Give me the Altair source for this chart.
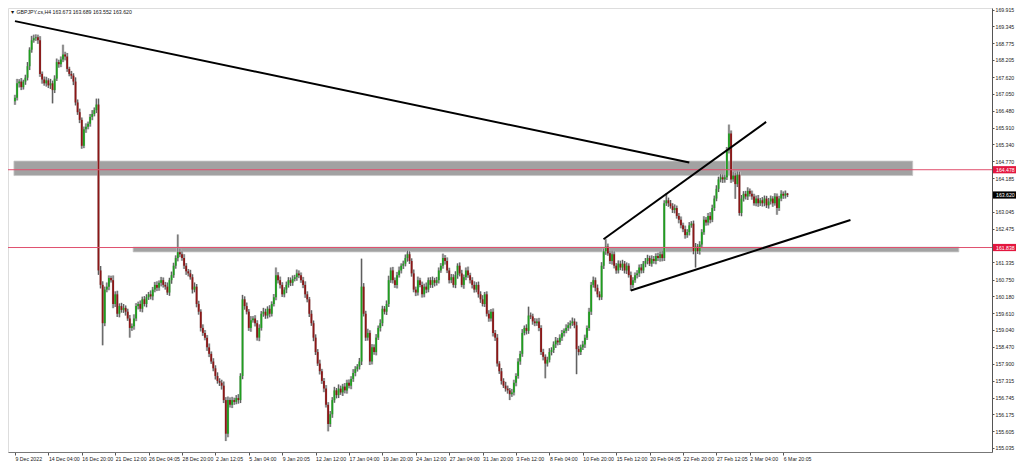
import altair as alt
import pandas as pd

# ---------------- data (GBPJPY H4) ----------------
first_open = 166.80
closes = [
    166.92, 167.41, 167.47, 167.28, 167.47, 167.60, 167.99, 168.55, 168.87, 168.94,
    168.97, 168.87, 167.73, 167.54, 167.41, 167.51, 167.34, 167.41, 167.18, 167.57,
    168.13, 168.06, 168.22, 168.39, 168.32, 167.90, 167.73, 167.67, 167.47, 166.76,
    166.43, 166.17, 165.29, 165.85, 165.94, 166.04, 166.27, 166.37, 166.50, 166.69,
    161.06, 160.57, 159.27, 160.41, 160.51, 160.80, 160.73, 159.92, 160.25, 159.59,
    159.85, 159.72, 159.79, 159.66, 159.43, 159.11, 159.17, 159.43, 159.85, 159.92,
    159.76, 160.08, 159.92, 160.15, 160.25, 160.18, 160.41, 160.57, 160.47, 160.64,
    160.73, 160.57, 160.51, 160.31, 160.73, 160.90, 161.22, 161.48, 161.68, 161.61,
    161.48, 161.22, 161.03, 160.96, 160.83, 160.41, 160.51, 159.92, 159.66, 159.11,
    158.94, 158.78, 158.45, 158.23, 157.97, 157.74, 157.48, 157.31, 157.25, 157.15,
    156.66, 155.52, 156.66, 156.50, 156.66, 156.60, 156.73, 156.66, 157.48, 160.08,
    159.85, 159.66, 159.11, 159.37, 159.43, 159.27, 158.78, 159.11, 159.59, 159.66,
    159.53, 159.76, 159.59, 159.92, 160.15, 160.90, 160.73, 160.57, 160.25, 160.41,
    160.57, 160.73, 160.64, 160.77, 160.83, 160.96, 160.90, 160.73, 160.57, 160.25,
    160.08, 159.59, 159.27, 158.78, 158.29, 157.90, 157.64, 157.31, 157.05, 156.50,
    155.85, 156.18, 156.66, 156.99, 156.83, 157.05, 156.92, 157.12, 156.99, 157.25,
    157.15, 157.38, 157.58, 157.71, 157.80, 157.97, 160.51, 159.59, 158.78, 158.94,
    157.97, 158.45, 158.29, 158.78, 159.11, 159.27, 159.76, 159.66, 159.92, 160.73,
    161.06, 160.73, 160.57, 160.90, 161.06, 161.22, 161.29, 161.48, 161.61, 161.38,
    160.96, 160.41, 160.31, 160.73, 160.57, 160.25, 160.51, 160.41, 160.73, 160.57,
    160.73, 160.64, 160.73, 161.06, 161.22, 161.48, 161.38, 161.06, 160.73, 160.83,
    160.57, 160.90, 161.22, 160.96, 160.57, 160.83, 161.06, 160.90, 160.73, 160.57,
    160.41, 160.57, 160.25, 160.08, 159.92, 160.25, 159.59, 159.43, 159.66, 158.94,
    158.78, 157.90, 157.64, 157.31, 157.15, 157.05, 156.99, 156.86, 156.92, 157.25,
    157.48, 157.97, 158.23, 158.94, 159.11, 159.01, 159.53, 159.50, 159.33, 159.27,
    159.33, 159.11, 158.29, 158.13, 157.90, 158.03, 158.29, 158.36, 158.55, 158.68,
    158.62, 158.78, 158.94, 159.01, 159.11, 159.20, 159.27, 159.33, 159.20, 158.39,
    158.29, 158.45, 158.55, 158.78, 159.11, 159.66, 160.57, 160.73, 160.47, 160.25,
    160.15, 161.22, 161.71, 161.87, 161.64, 161.38, 161.61, 161.22, 161.06, 161.29,
    161.16, 161.29, 161.06, 161.22, 160.90, 160.57, 160.73, 160.90, 160.96, 161.16,
    161.06, 161.29, 161.38, 161.48, 161.29, 161.45, 161.38, 161.55, 161.48, 161.61,
    161.48, 163.34, 163.44, 163.34, 163.24, 163.11, 163.18, 162.91, 162.78, 162.59,
    162.46, 162.26, 162.36, 162.59, 162.65, 161.71, 161.87, 161.71, 161.94, 162.36,
    162.78, 162.69, 162.91, 162.78, 163.18, 163.50, 163.83, 164.15, 164.22, 164.15,
    164.22, 165.13, 165.71, 164.15, 164.28, 163.99, 164.31, 163.01, 163.50, 163.66,
    163.57, 163.76, 163.66, 163.57, 163.34, 163.50, 163.34, 163.44, 163.34, 163.50,
    163.27, 163.40, 163.50, 163.34, 163.57, 163.18, 163.50, 163.66, 163.60, 163.67,
    163.62,
]
# wick lengths above / below the body, in hundredths of a yen
up_wick = [
    10, 15, 8, 12, 6, 10, 14, 8, 15, 12, 10, 9, 14, 8, 10, 12, 7, 15, 9, 11,
    12, 8, 10, 33, 9, 12, 7, 10, 8, 14, 10, 12, 8, 9, 11, 7, 10, 13, 9, 20,
    20, 15, 12, 10, 14, 9, 8, 16, 10, 12, 9, 11, 13, 8, 10, 12, 9, 14, 10, 8,
    12, 9, 11, 10, 8, 13, 9, 10, 12, 8, 11, 9, 10, 14, 8, 12, 10, 9, 60, 12,
    10, 13, 9, 8, 12, 10, 14, 9, 11, 8, 12, 10, 9, 13, 8, 11, 10, 12, 9, 10,
    14, 10, 12, 9, 11, 8, 10, 13, 9, 15, 10, 12, 9, 14, 8, 11, 10, 12, 9, 13,
    10, 8, 12, 9, 11, 26, 10, 12, 9, 8, 11, 10, 9, 12, 8, 13, 10, 9, 11, 12,
    10, 8, 12, 9, 11, 10, 13, 8, 10, 12, 9, 11, 10, 12, 8, 14, 10, 9, 12, 10,
    11, 9, 13, 10, 8, 12, 95, 12, 10, 14, 9, 11, 10, 12, 8, 13, 10, 9, 12, 15,
    10, 12, 9, 11, 13, 8, 10, 12, 12, 10, 9, 13, 10, 12, 8, 11, 10, 14, 9, 10,
    12, 8, 11, 10, 9, 15, 10, 12, 9, 11, 10, 13, 8, 11, 12, 9, 10, 13, 8, 10,
    12, 9, 11, 10, 14, 8, 10, 12, 9, 11, 10, 12, 8, 11, 9, 13, 10, 8, 12, 10,
    9, 11, 10, 13, 8, 12, 30, 10, 9, 11, 10, 12, 9, 11, 8, 10, 13, 9, 10, 12,
    9, 11, 10, 8, 12, 10, 9, 13, 10, 12, 11, 9, 12, 10, 8, 13, 10, 12, 9, 11,
    10, 12, 9, 25, 10, 8, 12, 10, 9, 11, 10, 13, 9, 11, 8, 12, 10, 9, 11, 10,
    12, 9, 10, 11, 8, 12, 10, 9, 11, 10, 12, 10, 23, 9, 11, 10, 12, 8, 10, 11,
    9, 12, 10, 11, 8, 10, 12, 9, 11, 10, 12, 9, 10, 13, 11, 10, 12, 9, 11, 10,
    9, 12, 30, 10, 12, 9, 11, 10, 12, 9, 10, 12, 8, 11, 9, 10, 12, 8, 11, 10,
    9, 12, 10, 8, 11, 10, 9, 12, 8, 10, 2,
]
down_wick = [
    12, 9, 14, 10, 8, 11, 9, 13, 10, 8, 9, 12, 10, 14, 8, 11, 9, 12, 45, 10,
    8, 12, 10, 9, 13, 10, 8, 11, 12, 10, 9, 11, 10, 8, 12, 9, 10, 11, 8, 10,
    15, 12, 75, 10, 9, 12, 8, 14, 10, 11, 12, 9, 10, 13, 8, 33, 10, 12, 9, 11,
    10, 12, 8, 11, 9, 10, 13, 9, 11, 10, 12, 9, 10, 8, 11, 12, 9, 10, 11, 10,
    9, 11, 12, 10, 8, 13, 9, 11, 10, 12, 10, 9, 12, 11, 8, 10, 12, 9, 11, 13,
    10, 25, 12, 9, 11, 10, 8, 12, 10, 11, 12, 9, 10, 13, 8, 11, 10, 12, 9, 10,
    11, 10, 12, 9, 8, 10, 11, 12, 9, 10, 12, 9, 11, 10, 8, 12, 10, 9, 11, 12,
    10, 11, 9, 12, 10, 8, 11, 10, 12, 9, 25, 10, 12, 9, 11, 10, 8, 12, 10, 11,
    9, 12, 10, 11, 8, 10, 12, 9, 11, 10, 12, 10, 9, 11, 8, 12, 10, 9, 11, 10,
    9, 11, 10, 12, 8, 10, 11, 9, 12, 10, 11, 9, 12, 10, 8, 11, 10, 12, 9, 10,
    10, 12, 9, 11, 8, 10, 12, 9, 11, 10, 9, 11, 12, 10, 8, 13, 10, 9, 11, 12,
    10, 9, 11, 12, 8, 10, 9, 11, 10, 12, 11, 10, 9, 12, 8, 10, 11, 20, 9, 10,
    12, 9, 11, 10, 8, 12, 10, 9, 11, 10, 9, 11, 10, 12, 50, 10, 9, 11, 10, 12,
    10, 9, 11, 12, 8, 10, 11, 9, 10, 85, 11, 10, 9, 12, 8, 10, 11, 9, 12, 10,
    10, 9, 11, 12, 8, 10, 12, 9, 11, 10, 9, 11, 10, 12, 8, 20, 10, 9, 11, 12,
    10, 9, 12, 11, 8, 10, 9, 11, 10, 12, 11, 10, 9, 12, 8, 10, 11, 9, 12, 10,
    10, 12, 9, 11, 8, 10, 55, 9, 11, 10, 9, 11, 10, 12, 8, 10, 9, 11, 10, 12,
    11, 9, 10, 12, 8, 50, 10, 9, 11, 10, 10, 12, 9, 11, 8, 10, 12, 9, 11, 10,
    9, 11, 10, 12, 8, 23, 10, 9, 11, 10, 7,
]

x_labels = ["9 Dec 2022", "14 Dec 04:00", "16 Dec 20:00", "21 Dec 12:00", "26 Dec 04:05",
            "28 Dec 20:00", "2 Jan 12:05", "5 Jan 04:00", "9 Jan 20:05", "12 Jan 12:00",
            "17 Jan 04:00", "19 Jan 20:00", "24 Jan 12:00", "27 Jan 04:00", "31 Jan 20:00",
            "3 Feb 12:00", "8 Feb 04:00", "10 Feb 20:00", "15 Feb 12:00", "20 Feb 04:05",
            "22 Feb 20:00", "27 Feb 12:05", "2 Mar 04:00", "6 Mar 20:05"]
bars_per_label = 16
y_ticks = [169.915, 169.345, 168.775, 168.205, 167.620, 167.050, 166.480, 165.910,
           165.340, 164.770, 164.185, 163.045, 162.475, 161.335, 160.750,
           160.180, 159.610, 159.040, 158.470, 157.900, 157.315, 156.745, 156.175,
           155.605, 155.035]

# zones (rectangles), horizontal levels and trend lines
zone_x0 = [-0.5, 56.6]
zone_x1 = [430.0, 452.1]
zone_top = [164.77, 161.85]
zone_bottom = [164.28, 161.69]
level_prices = [164.478, 161.838]
tag_prices = [164.478, 161.838, 163.620]
tag_text = ["164.478", "161.838", "163.620"]
tag_fill = ["#e3173f", "#e3173f", "#000000"]
trend_x0 = [0.0, 281.9, 295.0]
trend_p0 = [169.52, 162.12, 160.38]
trend_x1 = [323.0, 359.8, 400.2]
trend_p1 = [164.72, 166.10, 162.77]
header = "\u25bc GBPJPY.cs,H4  163.673 163.689 163.552 163.620"

# ---------------- build tables ----------------
opens = [first_open] + closes[:-1]
rows = []
for i, c in enumerate(closes):
    o = opens[i]
    rows.append({
        "idx": i, "open": o, "close": c,
        "high": max(o, c) + up_wick[i] / 100.0,
        "low": min(o, c) - down_wick[i] / 100.0,
        "dir": "up" if c >= o else "down",
    })
df = pd.DataFrame(rows)

W, H = 984, 444
FONT = "Liberation Sans"
FS = 5.2
xscale = alt.Scale(domain=[-0.95, 465.6], nice=False, zero=False)
yscale = alt.Scale(domain=[154.899, 169.966], nice=False, zero=False)

label_expr = "[" + ",".join("'%s'" % s for s in x_labels) + "][round(datum.value/%d)]" % bars_per_label
x_axis = alt.Axis(values=list(range(0, bars_per_label * len(x_labels), bars_per_label)),
                  labelExpr=label_expr, labelAlign="left", labelBaseline="top",
                  labelPadding=1, tickSize=3, tickColor="#555555", domainColor="#777777",
                  labelFontSize=FS, labelFont=FONT, labelColor="#222222",
                  labelFlush=False, labelOverlap=False, grid=False, title=None)
y_axis = alt.Axis(orient="right", values=y_ticks, format=".3f", labelAlign="left",
                  labelBaseline="middle", tickSize=2, labelPadding=1,
                  tickColor="#555555", domainColor="#555555",
                  labelFontSize=FS, labelFont=FONT, labelColor="#222222",
                  labelFlush=False, labelOverlap=False, grid=False, title=None)


def X(field):
    return alt.X(field, scale=xscale, axis=x_axis)


def Y(field):
    return alt.Y(field, scale=yscale, axis=y_axis)


zones = alt.Chart(pd.DataFrame({"x0": zone_x0, "x1": zone_x1, "t": zone_top, "b": zone_bottom})).mark_rect(
    color="#a2a2a2", stroke="#c6c6c6", strokeWidth=0.8).encode(
    x=X("x0:Q"), x2="x1:Q", y=Y("t:Q"), y2="b:Q")

base = alt.Chart(df).encode(x=X("idx:Q"))
halo = base.mark_rule(color="#cacaca", strokeWidth=2.6).encode(y=Y("low:Q"), y2="high:Q")
wick = base.mark_rule(color="#5a5a5a", strokeWidth=1).encode(y=Y("low:Q"), y2="high:Q")
body = base.mark_bar(size=1.8).encode(
    y=Y("open:Q"), y2="close:Q",
    color=alt.Color("dir:N", scale=alt.Scale(domain=["up", "down"], range=["#1f9e1f", "#8c1616"]), legend=None))

levels = alt.Chart(pd.DataFrame({"p": level_prices})).mark_rule(
    color="#e0506e", strokeWidth=1).encode(y=Y("p:Q"))

trends = alt.Chart(pd.DataFrame({"x0": trend_x0, "x1": trend_x1, "p0": trend_p0, "p1": trend_p1})).mark_rule(
    color="#000000", strokeWidth=2).encode(x=X("x0:Q"), x2="x1:Q", y=Y("p0:Q"), y2="p1:Q")

tags_df = pd.DataFrame({"p": tag_prices, "t": tag_text, "f": tag_fill})
tag_box = alt.Chart(tags_df).mark_rect(yOffset=-3.6, y2Offset=3.6).encode(
    x=alt.value(W + 1), x2=alt.value(W + 24), y=Y("p:Q"), y2="p:Q",
    color=alt.Color("f:N", scale=None, legend=None))
tag_txt = alt.Chart(tags_df).mark_text(align="left", baseline="middle", fontSize=FS, font=FONT,
                                       color="#ffffff").encode(
    x=alt.value(W + 4), y=Y("p:Q"), text="t:N")

title_txt = alt.Chart(pd.DataFrame({"t": [header]})).mark_text(
    align="left", baseline="middle", fontSize=FS, font=FONT, color="#111111").encode(
    x=alt.value(2), y=alt.value(4), text="t:N")

chart = alt.layer(zones, halo, wick, body, levels, trends, tag_box, tag_txt, title_txt).properties(
    width=W, height=H,
    padding={"left": 0, "top": 0, "right": 24, "bottom": 12},
    autosize=alt.AutoSizeParams(type="none"),
).configure_view(stroke="#8a8a8a", strokeWidth=1).configure(background="#ffffff")

chart.save("out.html", embed_options={"renderer": "svg", "actions": False})
